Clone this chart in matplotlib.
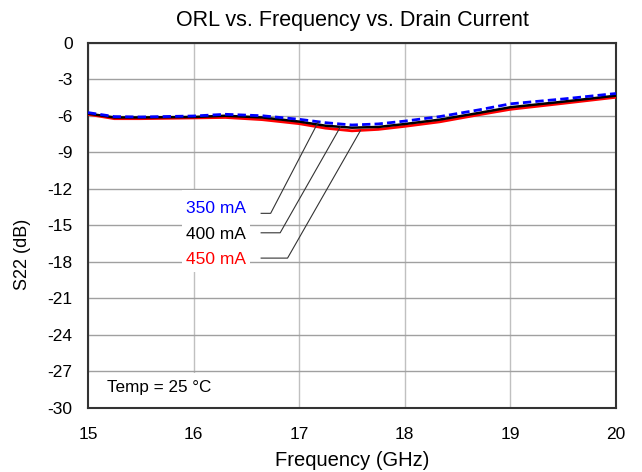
import matplotlib
matplotlib.use("Agg")
import matplotlib.pyplot as plt
from matplotlib.patches import Rectangle

plt.rcParams['font.family'] = ['Liberation Sans', 'DejaVu Sans']
plt.rcParams['axes.unicode_minus'] = False

# frequency points (GHz) and S22 (dB) per drain current
freq = [15.0, 15.25, 15.5, 16.0, 16.3, 16.65, 17.0, 17.25, 17.5, 17.75, 18.0, 18.33, 18.7, 19.0, 19.5, 20.0]
s22_350 = [-5.72, -6.05, -6.08, -6.0, -5.86, -5.98, -6.27, -6.55, -6.74, -6.65, -6.42, -6.05, -5.5, -5.0, -4.6, -4.15]
s22_400 = [-5.8, -6.12, -6.12, -6.08, -5.98, -6.12, -6.46, -6.8, -6.96, -6.9, -6.66, -6.3, -5.75, -5.28, -4.82, -4.33]
s22_450 = [-5.86, -6.22, -6.22, -6.16, -6.12, -6.3, -6.63, -7.0, -7.22, -7.1, -6.85, -6.48, -5.9, -5.45, -4.96, -4.46]

labels = ['350 mA', '400 mA', '450 mA']
label_y = [-13.58, -15.7, -17.83]
leader_y = [-14.0, -15.6, -17.68]
leader_end = [(17.18, -6.5), (17.39, -6.9), (17.58, -7.2)]
leader_knee = [16.73, 16.82, 16.89]
colors = ['#0000ff', '#000000', '#ff0000']

yticks = list(range(0, -31, -3))
xticks = [15, 16, 17, 18, 19, 20]

fig = plt.figure(figsize=(6.42, 4.72), dpi=100)
ax = fig.add_axes([0.137, 0.1356, 0.8225, 0.7733])

ax.plot(freq, s22_450, color='#ff0000', lw=2.0, zorder=3)
ax.plot(freq, s22_400, color='#000000', lw=1.8, zorder=4)
ax.plot(freq, s22_350, color='#0000ff', lw=2.0, ls=(0, (3, 1.5)), zorder=5)

# white patch behind the current labels
ax.add_patch(Rectangle((15.89, -18.82), 0.64, 6.74, fc='white', ec='none', zorder=2))
for i in range(3):
    ax.text(16.5, label_y[i], labels[i], color=colors[i], fontsize=12.5,
            ha='right', va='center', zorder=6)
    ax.plot([16.64, leader_knee[i], leader_end[i][0]], [leader_y[i], leader_y[i], leader_end[i][1]],
            color='#333333', lw=0.8, zorder=6)

# temperature note
ax.add_patch(Rectangle((15, -30), 1.316, 2.9, fc='white', ec='none', zorder=2))
ax.text(15.177, -28.35, 'Temp = 25 °C', fontsize=12.3, va='center', ha='left', zorder=7)

ax.set_xlim(15, 20)
ax.set_ylim(-30, 0)
ax.set_xticks(xticks)
ax.set_yticks(yticks)
ax.tick_params(axis='x', length=0, labelsize=12.5, pad=14)
ax.tick_params(axis='y', length=0, labelsize=12.5, pad=11)
ax.xaxis.grid(True, color='#c0c0c0', lw=1.0)
ax.yaxis.grid(True, color='#a0a0a0', lw=1.0)
ax.set_axisbelow(True)
for s in ax.spines.values():
    s.set_color('#333333')
    s.set_linewidth(1.5)

ax.set_title('ORL vs. Frequency vs. Drain Current', fontsize=15.5, pad=12)
ax.set_xlabel('Frequency (GHz)', fontsize=14.5, labelpad=6)
ax.set_ylabel('S22 (dB)', fontsize=13)
ax.yaxis.set_label_coords(-0.108, 0.42)

fig.savefig('out.png', dpi=100)
